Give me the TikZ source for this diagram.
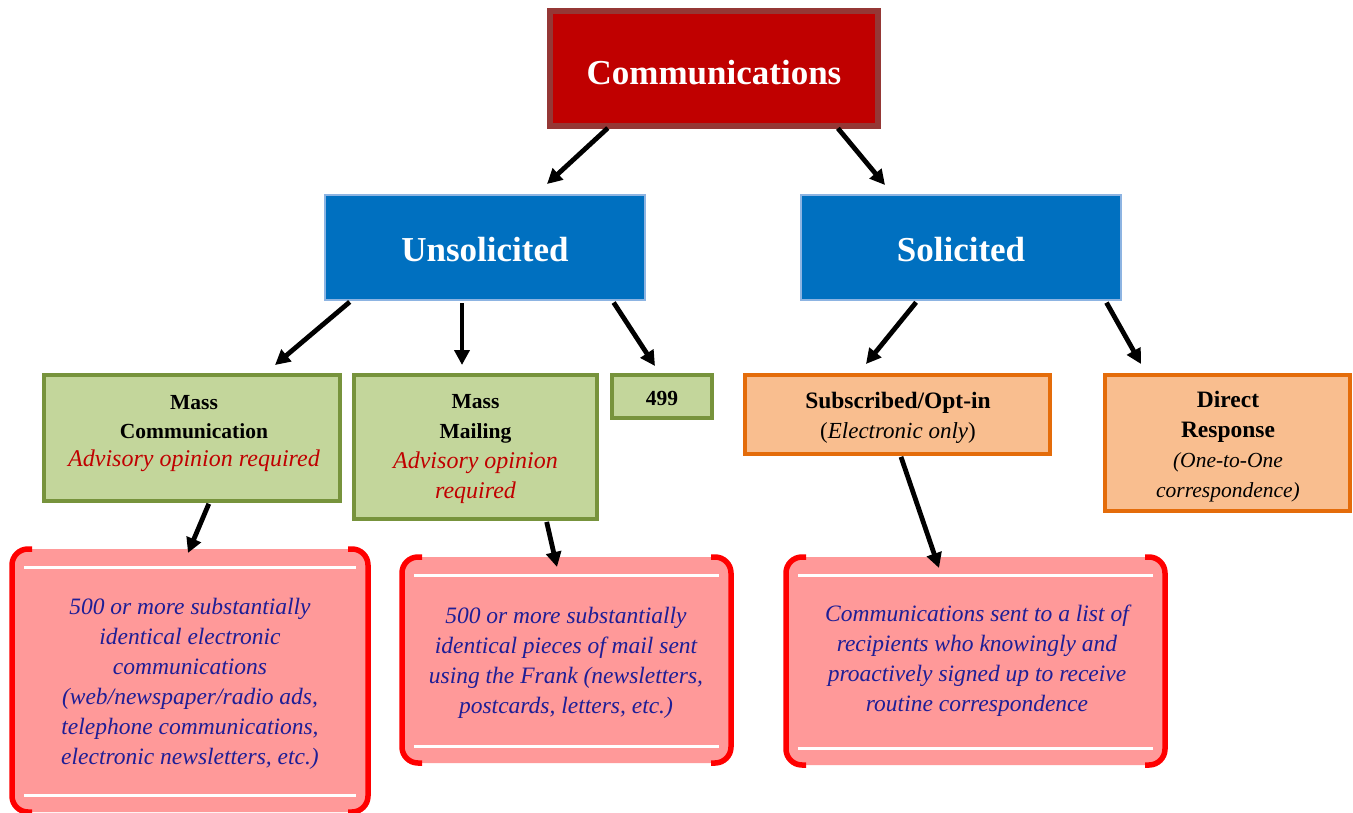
\documentclass[tikz,border=0pt]{standalone}
\usepackage{fontspec}
\setmainfont{Liberation Serif}
\usetikzlibrary{arrows.meta,calc}
\definecolor{commfill}{HTML}{C00000}
\definecolor{commdraw}{HTML}{953735}
\definecolor{bluefill}{HTML}{0070C0}
\definecolor{bluedraw}{HTML}{8DB4E2}
\definecolor{greenfill}{HTML}{C3D69B}
\definecolor{greendraw}{HTML}{77933C}
\definecolor{orangefill}{HTML}{F9BE8F}
\definecolor{orangedraw}{HTML}{E46C0A}
\definecolor{pinkfill}{HTML}{FF9999}
\definecolor{bracketred}{HTML}{FF0000}
\definecolor{advred}{HTML}{C00000}
\definecolor{navytext}{HTML}{1E1E96}
\begin{document}
\begin{tikzpicture}[x=1pt,y=-1pt,
  box/.style={rectangle, inner sep=0pt, outer sep=0pt},
  commbox/.style={box, fill=commfill, draw=commdraw, line width=6pt},
  bluebox/.style={box, fill=bluefill, draw=bluedraw, line width=2pt},
  greenbox/.style={box, fill=greenfill, draw=greendraw, line width=4pt},
  orangebox/.style={box, fill=orangefill, draw=orangedraw, line width=4pt},
  pinkbox/.style={box, fill=pinkfill, rounded corners=16pt},
  bigtxt/.style={text=white, font=\fontsize{35}{42}\selectfont\bfseries},
  txt/.style={align=center, inner sep=0pt, outer sep=0pt},
  pinktxt/.style={txt, text=navytext, font=\fontsize{23.5}{30}\selectfont\itshape},
  bracket/.style={draw=bracketred, line width=5.5pt, rounded corners=16pt},
  wline/.style={draw=white, line width=3pt},
  arr/.style={-{Triangle[length=15pt,width=15pt]}, line width=4.8pt, shorten <=3pt},
]
\useasboundingbox (0,0) rectangle (1353,812);

% top level
\node[commbox, minimum width=328pt, minimum height=115pt] (comm) at (714,68.5) {};
\node[bigtxt, inner sep=0pt] (commt) at (714,72.5) {Communications};

% second level
\node[bluebox, minimum width=320pt, minimum height=105pt] (unsol) at (485,247.5) {};
\node[bluebox, minimum width=320pt, minimum height=105pt] (sol) at (961,247.5) {};
\node[bigtxt, inner sep=0pt] (unsolt) at (485,249.5) {Unsolicited};
\node[bigtxt, inner sep=0pt] (solt) at (961,249.5) {Solicited};

% third level boxes
\node[greenbox, minimum width=296pt, minimum height=126pt] (mc) at (192,438) {};
\node[greenbox, minimum width=243pt, minimum height=144pt] (mm) at (475.5,447) {};
\node[greenbox, minimum width=100pt, minimum height=43pt] (n499) at (662,396.5) {};
\node[orangebox, minimum width=305pt, minimum height=79pt] (sub) at (897.5,414.5) {};
\node[orangebox, minimum width=245pt, minimum height=136pt] (dr) at (1227.5,443) {};

% third level texts
\node[txt, font=\fontsize{21.5}{28.5}\selectfont] (mct) at (194,434)
  {\textbf{Mass}\\\textbf{Communication}\\{\fontsize{24}{28.5}\selectfont\itshape\color{advred}Advisory opinion required}};
\node[txt, font=\fontsize{21.5}{30}\selectfont] (mmt) at (475.5,449)
  {\textbf{Mass}\\\textbf{Mailing}\\{\fontsize{24}{30}\selectfont\itshape\color{advred}Advisory opinion}\\{\fontsize{24}{30}\selectfont\itshape\color{advred}required}};
\node[txt, font=\fontsize{21.5}{26}\selectfont\bfseries] (n499t) at (662,398.5) {499};
\node[txt, font=\fontsize{23.5}{30}\selectfont] (subt) at (898,418)
  {\textbf{Subscribed/Opt-in}\\{\fontsize{23}{30}\selectfont(\textit{Electronic only})}};
\node[txt, font=\fontsize{23.5}{30}\selectfont] (drt) at (1228,446.5)
  {\textbf{Direct}\\\textbf{Response}\\{\fontsize{21.5}{29.5}\selectfont\itshape(One-to-One}\\{\fontsize{21.5}{28}\selectfont\itshape correspondence)}};

% pink boxes
\node[pinkbox, minimum width=356pt, minimum height=263pt] (p1) at (190,680.5) {};
\node[pinkbox, minimum width=329pt, minimum height=206pt] (p2) at (566.5,660) {};
\node[pinkbox, minimum width=379pt, minimum height=208pt] (p3) at (975.5,661) {};

\foreach \p in {p1,p2,p3}{
  \draw[bracket] ([xshift=20pt]\p.north west) -- (\p.north west) -- (\p.south west) -- ([xshift=20pt]\p.south west);
  \draw[bracket] ([xshift=-20pt]\p.north east) -- (\p.north east) -- (\p.south east) -- ([xshift=-20pt]\p.south east);
  \draw[wline] ([xshift=12pt,yshift=-18pt]\p.north west) -- ([xshift=-12pt,yshift=-18pt]\p.north east);
  \draw[wline] ([xshift=12pt,yshift=17pt]\p.south west) -- ([xshift=-12pt,yshift=17pt]\p.south east);
}

\node[pinktxt] (p1t) at (190,684)
  {500 or more substantially\\identical electronic\\communications\\(web/newspaper/radio ads,\\telephone communications,\\electronic newsletters, etc.)};
\node[pinktxt] (p2t) at (566,662.5)
  {500 or more substantially\\identical pieces of mail sent\\using the Frank (newsletters,\\postcards, letters, etc.)};
\node[pinktxt] (p3t) at (977,661)
  {Communications sent to a list of\\recipients who knowingly and\\proactively signed up to receive\\routine correspondence};

% arrows
\draw[arr] ([xshift=60pt]comm.south west) -- ([xshift=222pt,yshift=11pt]unsol.north west);
\draw[arr] ([xshift=286pt]comm.south west) -- ([xshift=84pt,yshift=10pt]sol.north west);
\draw[arr] ([xshift=27pt]unsol.south west) -- ([xshift=231pt,yshift=10pt]mc.north west);
\draw[arr] ([xshift=137pt]unsol.south west) -- ([xshift=108pt,yshift=10pt]mm.north west);
\draw[arr] ([xshift=287pt]unsol.south west) -- ([xshift=43pt,yshift=9pt]n499.north west);
\draw[arr] ([xshift=117pt]sol.south west) -- ([xshift=121pt,yshift=11pt]sub.north west);
\draw[arr] ([xshift=304pt]sol.south west) -- ([xshift=36pt,yshift=11pt]dr.north west);
\draw[arr] ([xshift=166pt]mc.south west) -- ([xshift=176pt,yshift=-4pt]p1.north west);
\draw[arr] ([xshift=192pt]mm.south west) -- ([xshift=155pt,yshift=-10pt]p2.north west);
\draw[arr] ([xshift=155pt]sub.south west) -- ([xshift=153pt,yshift=-11pt]p3.north west);
\end{tikzpicture}
\end{document}
